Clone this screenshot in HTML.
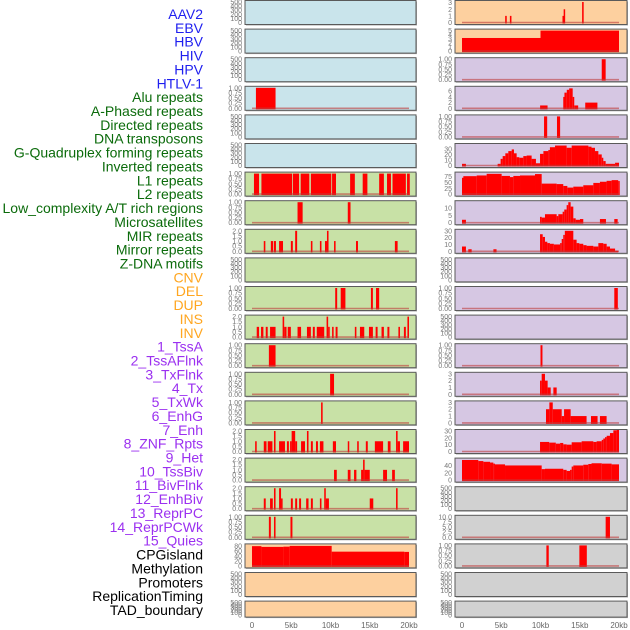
<!DOCTYPE html>
<html><head><meta charset="utf-8"><style>
html,body{margin:0;padding:0;background:#fff;width:630px;height:630px;overflow:hidden}
svg{display:block}
</style></head><body>
<svg id="chart" width="630" height="630" xmlns="http://www.w3.org/2000/svg" font-family="Liberation Sans, sans-serif"></svg>
<script>
// ---- track labels ----
const labels = ["AAV2","EBV","HBV","HIV","HPV","HTLV-1","Alu repeats","A-Phased repeats","Directed repeats","DNA transposons","G-Quadruplex forming repeats","Inverted repeats","L1 repeats","L2 repeats","Low_complexity A/T rich regions","Microsatellites","MIR repeats","Mirror repeats","Z-DNA motifs","CNV","DEL","DUP","INS","INV","1_TssA","2_TssAFlnk","3_TxFlnk","4_Tx","5_TxWk","6_EnhG","7_Enh","8_ZNF_Rpts","9_Het","10_TssBiv","11_BivFlnk","12_EnhBiv","13_ReprPC","14_ReprPCWk","15_Quies","CPGisland","Methylation","Promoters","ReplicationTiming","TAD_boundary"];
const labelGroups = [6,13,5,15,5];
const xTicks = [0,5,10,15,20];
const xTickLabels = ["0","5kb","10kb","15kb","20kb"];
// ---- tick sets ----
const t500 = [0,100,200,300,400,500];
const t1 = [0,0.25,0.5,0.75,1];
const t2 = [0,0.5,1,1.5,2];
// ---- left column data [startKb,endKb,value] ----
const L_alu = [[0.5,3,1]];
const L_l1 = [[0.25,0.9,1],[1.2,5.1,1],[5.2,6.0,1],[6.2,7.3,1],[7.5,10.1,1],[10.2,10.7,1],[12.5,13.1,1],[14.1,14.7,1],[16.2,16.8,1],[17.2,17.7,1],[17.9,19.6,1],[19.75,20.1,1]];
const L_l2 = [[5.8,6.45,1],[12.2,12.55,1]];
const L_mir = [[1.5,1.7,1],[2.4,2.7,1],[2.8,3.05,1],[3.45,3.95,1],[4.95,5.2,1],[5.5,5.75,2],[7.5,7.7,1],[8.65,8.85,1],[9.3,9.55,1],[9.55,9.75,2],[10.45,10.65,1],[13.25,13.5,1],[18.2,18.55,1]];
const L_del = [[10.6,10.85,1],[11.3,11.9,1],[15.15,15.4,1],[15.8,16.2,1]];
const L_ins = [[0.6,0.9,1],[1.15,1.45,1],[1.75,2.0,1],[2.3,3.0,1],[3.9,4.1,2],[4.1,4.4,1],[4.55,4.95,1],[5.8,6.25,1],[7.0,7.5,1],[7.75,8.0,1],[8.25,9.2,1],[9.5,9.7,2],[9.7,9.9,1],[10.2,10.4,1],[10.65,10.9,1],[13.1,13.3,1],[13.75,14.3,1],[14.9,15.4,1],[15.75,16.0,1],[16.5,16.8,1],[17.25,17.5,1],[18.65,18.85,1],[19.35,19.6,1],[19.8,20.0,2]];
const L_tssa = [[2.15,3.0,1]];
const L_tss2 = [[9.95,10.45,1]];
const L_txflnk = [[8.8,9.0,1]];
const L_s16 = [[0.4,0.6,1],[1.5,1.85,1],[2.0,2.6,1],[2.8,3.0,2],[3.45,4.2,1],[4.45,4.7,1],[4.85,5.05,1],[5.05,5.5,2],[5.5,5.75,1],[6.25,6.75,1],[7.0,7.2,2],[7.5,7.75,1],[8.15,8.4,1],[8.65,9.1,1],[10.3,10.7,1],[12.2,12.35,1],[13.4,13.6,1],[14.5,14.75,1],[15.65,16.7,1],[17.3,17.65,1],[18.35,18.55,2],[18.55,18.85,1],[19.25,20.0,1]];
const L_s17 = [[10.45,10.8,1],[12.2,12.55,1],[13.0,13.3,1],[13.9,14.15,1],[14.15,14.35,2],[14.35,15.0,1],[16.7,17.2,1],[17.85,18.2,1]];
const L_s18 = [[1.5,1.75,1],[2.3,2.65,1],[2.8,3.0,2],[3.45,3.7,2],[3.7,3.9,1],[4.95,5.2,1],[5.5,5.75,1],[6.0,6.25,1],[6.9,7.2,1],[7.5,7.75,1],[8.65,8.85,1],[9.2,9.4,2],[9.4,9.8,1],[15.0,15.45,1],[18.35,18.55,2]];
const L_s19 = [[2.15,2.4,1],[2.8,3.0,1],[4.9,5.15,1]];
const L_cpg = [[0,1.2,79],[1.2,4.0,76],[4.0,4.8,77],[4.8,10.15,80],[10.15,19.4,57],[19.4,20,56]];
// ---- right column data ----
const R_aav2 = [[5.5,5.7,1],[6.1,6.3,1],[12.8,12.95,1],[12.95,13.1,2],[15.3,15.5,3.1]];
const R_ebv = [[0,10,3.2],[10,20,5]];
const R_hiv = [[17.8,18.3,1]];
const R_alu = [[9.95,10.9,1],[12.9,13.05,4],[13.05,13.35,5.5],[13.35,13.65,6.5],[13.65,14.1,7],[14.1,14.3,4],[14.3,14.8,1],[15.7,17.25,2]];
const R_dir = [[10.45,10.85,1],[12.1,12.5,1]];
const R_gq = [[0,0.5,3],[4.54,4.92,3],[4.92,5.18,12],[5.18,5.52,17],[5.52,5.9,22],[5.9,6.33,26],[6.33,6.62,29],[6.62,6.96,22],[6.96,7.3,15],[7.3,7.81,14],[7.81,8.23,17],[8.23,8.87,18],[8.87,9.42,12],[9.42,9.94,4],[9.94,10.37,21],[10.37,11.0,26],[11.0,11.2,28],[11.2,11.85,33],[11.85,13.33,36],[13.33,13.97,32],[13.97,16.1,36],[16.1,16.5,34],[16.5,16.94,32],[16.94,17.37,26],[17.37,17.8,20],[17.8,18.0,14],[18.0,18.3,8],[18.3,19.5,3],[19.5,20,5]];
const R_l1 = [[0,0.17,70],[0.17,1.87,77],[1.87,3.14,80],[3.14,5.05,87],[5.05,6.11,78],[6.11,6.54,73],[6.54,7.39,78],[7.39,9.3,80],[9.3,10.15,86],[10.15,12.06,45],[12.06,12.9,43],[12.9,13.42,35],[13.42,14.18,28],[14.18,15.45,32],[15.45,16.73,38],[16.73,17.57,48],[17.57,18.42,53],[18.42,19.06,57],[19.06,19.9,60],[19.9,20,56]];
const R_micro = [[0,0.5,2],[9.94,10.15,4],[10.15,10.57,3.5],[10.57,12.06,5.8],[12.06,12.27,4.5],[12.27,12.82,5.8],[12.82,13.03,7.5],[13.03,13.33,9],[13.33,13.54,12],[13.54,13.84,14],[13.84,14.18,11],[14.18,14.48,3],[14.48,15.03,2],[15.03,15.45,2.5],[17.57,18.34,2.5],[19.4,19.83,2.5]];
const R_mir = [[0,0.5,7],[0.8,1.23,3],[4.0,4.4,3],[9.94,10.28,25],[10.28,10.57,21],[10.57,10.87,14],[10.87,11.2,12],[11.2,11.7,11],[11.7,12.5,10],[12.5,12.7,12],[12.7,12.9,18],[12.9,13.1,24],[13.1,14.18,30],[14.18,14.6,17],[14.6,14.95,12],[14.95,15.45,11],[15.45,15.87,9],[15.87,16.73,8],[16.73,17.37,7],[17.37,18.0,12],[18.0,18.43,11],[18.43,18.85,7],[18.85,19.5,4],[19.5,19.9,1]];
const R_dup = [[19.4,19.85,1]];
const R_tssa = [[10.0,10.25,1]];
const R_tss2 = [[9.94,10.15,2],[10.15,10.57,3],[10.57,10.91,2],[10.91,11.3,1],[11.64,12.06,1]];
const R_txf = [[10.7,11.13,2],[11.13,11.56,3],[11.56,12.7,2],[12.7,13.0,1],[13.0,13.84,2],[13.84,15.87,1],[16.43,17.27,1],[17.57,18.42,1]];
const R_s16 = [[9.94,11.1,14],[11.1,11.95,13],[11.95,12.5,11.5],[12.5,12.9,12.5],[12.9,13.33,10.5],[13.33,13.97,10],[13.97,15.24,13.5],[15.24,16.73,15],[16.73,17.15,14],[17.15,17.8,15],[17.8,18.0,17],[18.0,18.22,19],[18.22,18.43,21],[18.43,18.85,23],[18.85,19.28,27],[19.28,19.7,31],[19.7,20.0,34]];
const R_s17 = [[0,0.38,55],[0.38,2.08,55],[2.08,2.72,52],[2.72,3.57,50],[3.57,3.99,48],[3.99,4.2,45],[4.2,5.48,43],[5.48,10.15,40],[10.15,10.57,30],[10.57,12.9,31],[12.9,13.33,28],[13.33,13.76,25],[13.76,13.97,28],[13.97,14.18,37],[14.18,15.45,40],[15.45,16.09,42],[16.09,16.5,44],[16.5,17.8,46],[17.8,19.06,45],[19.06,20.0,43]];
const R_s19 = [[18.3,18.85,10]];
const R_cpg = [[10.75,11.05,1],[14.95,15.9,1]];

// panel spec: col, row, bg, ticks, max, data
const BLUE="#c9e4eb",GREEN="#c8e1a6",ORANGE="#fdd09f",PURPLE="#d6c7e3",GREY="#d1d1d1";
const panels = [
 [0,0,BLUE,t500,500,null,"aav2-left"],[0,1,BLUE,t500,500,null,"ebv-left"],[0,2,BLUE,t500,500,null,"hiv-left"],
 [0,3,BLUE,t1,1,L_alu,"alu-left"],[0,4,BLUE,t500,500,null,"directed-left"],[0,5,BLUE,t500,500,null,"gquad-left"],
 [0,6,GREEN,t1,1,L_l1,"l1-left"],[0,7,GREEN,t1,1,L_l2,"l2-left"],[0,8,GREEN,t2,2,L_mir,"mir-left"],
 [0,9,GREEN,t500,500,null,"zdna-left"],[0,10,GREEN,t1,1,L_del,"del-left"],[0,11,GREEN,t2,2,L_ins,"ins-left"],
 [0,12,GREEN,t1,1,L_tssa,"tssa-left"],[0,13,GREEN,t1,1,L_tss2,"tssaflnk-left"],[0,14,GREEN,t1,1,L_txflnk,"txflnk-left"],
 [0,15,GREEN,t2,2,L_s16,"enh-left"],[0,16,GREEN,t2,2,L_s17,"znf-left"],[0,17,GREEN,t2,2,L_s18,"bivflnk-left"],
 [0,18,GREEN,t1,1,L_s19,"reprpc-left"],[0,19,ORANGE,[0,20,40,60,80],82,L_cpg,"cpg-left"],
 [0,20,ORANGE,t500,500,null,"promoters-left"],[0,21,ORANGE,t500,500,null,"tad-left"],
 [1,0,ORANGE,[0,1,2,3],3.1,R_aav2,"aav2-right"],[1,1,ORANGE,[0,1,2,3,4,5],5,R_ebv,"ebv-right"],
 [1,2,PURPLE,t1,1,R_hiv,"hiv-right"],[1,3,PURPLE,[0,2,4,6],7.2,R_alu,"alu-right"],
 [1,4,PURPLE,t1,1,R_dir,"directed-right"],[1,5,PURPLE,[0,10,20,30],37,R_gq,"gquad-right"],
 [1,6,PURPLE,[0,25,50,75],88,R_l1,"l1-right"],[1,7,PURPLE,[0,5,10],14,R_micro,"micro-right"],
 [1,8,PURPLE,[0,10,20,30],30,R_mir,"mir-right"],[1,9,PURPLE,t500,500,null,"zdna-right"],
 [1,10,PURPLE,t1,1,R_dup,"dup-right"],[1,11,PURPLE,t500,500,null,"inv-right"],
 [1,12,PURPLE,t1,1,R_tssa,"tssa-right"],[1,13,PURPLE,[0,1,2,3],3,R_tss2,"tssaflnk-right"],
 [1,14,PURPLE,[0,1,2,3],3,R_txf,"txflnk-right"],[1,15,PURPLE,[0,10,20,30],30,R_s16,"enh-right"],
 [1,16,PURPLE,[0,20,40],56,R_s17,"znf-right"],[1,17,GREY,t500,500,null,"bivflnk-right"],
 [1,18,GREY,[0,2.5,5,7.5,10],10,R_s19,"reprpc-right"],[1,19,GREY,t1,1,R_cpg,"cpg-right"],
 [1,20,GREY,t500,500,null,"promoters-right"],[1,21,GREY,t500,500,null,"tad-right"]
];

const NS="http://www.w3.org/2000/svg";
const svg=document.getElementById('chart');
function mk(tag,attrs,parent){const e=document.createElementNS(NS,tag);for(const k in attrs)e.setAttribute(k,attrs[k]);(parent||svg).appendChild(e);return e;}
const colX=[245,455], colW=[171,172];
function xScale(col,kb){return colX[col]+7+kb*7.85;}
function rowTop(r){return 0.5+r*28.6;}
function rowH(r){return r===21?16:24;}
function yScale(r,max,v){const t=rowTop(r),h=rowH(r);return t+h-2-(v/max)*(h-3.5);}
function fmt(v,ticks){const step=ticks[1]-ticks[0];if(step<1){return v.toFixed(step===0.25||step===0.5&&ticks[ticks.length-1]===1?2:1);}if(step===2.5)return v.toFixed(1);return String(v);}

// labels
const groupColors=["#1f1fef","#0b6b0b","#ffa620","#9b30f0","#000000"];
let gi=0,cnt=0;
labels.forEach((lab,i)=>{
 while(cnt>=labelGroups[gi]){cnt-=labelGroups[gi];gi++;}
 cnt++;
 const t=mk('text',{x:203,y:14+i*13.86+5,'text-anchor':'end','font-size':'14',fill:groupColors[gi]});
 
 
 t.textContent=lab;
});

panels.forEach(p=>{
 const [col,row,bg,ticks,max,data,name]=p;
 const g=mk('g',{});
 
 
 const top=rowTop(row),h=rowH(row);
 mk('rect',{x:colX[col]+1,y:top+1,width:colW[col],height:h,fill:'#aaa'},g);
 mk('rect',{x:colX[col],y:top,width:colW[col],height:h,fill:bg,stroke:'#5a5a5a','stroke-width':1},g);
 ticks.forEach(v=>{
  const tt=mk('text',{x:colX[col]-3,y:yScale(row,max,v)+2.5,'text-anchor':'end','font-size':'7',fill:'#777'},g);
  
  
  tt.textContent=fmt(v,ticks);
 });
 if(data){
  const y0=yScale(row,max,0);
  data.forEach(d=>{
   const x1=xScale(col,d[0]),x2=xScale(col,d[1]);
   const y1=Math.max(top+0.5,yScale(row,max,d[2]));
   const b=mk('rect',{x:x1,y:y1,width:Math.max(1.5,x2-x1),height:y0-y1+1,fill:'#ff0000'},g);
   
   
  });
  mk('line',{x1:xScale(col,0),x2:xScale(col,20),y1:y0,y2:y0,stroke:'rgba(190,60,60,0.6)','stroke-width':1.6},g);
 }
});

// x axes
[0,1].forEach(col=>{
 xTicks.forEach((v,i)=>{
  const t=mk('text',{x:xScale(col,v),y:628,'text-anchor':'middle','font-size':'8',fill:'#666'});
  
  
  t.textContent=xTickLabels[i];
 });
});
</script>
</body></html>
